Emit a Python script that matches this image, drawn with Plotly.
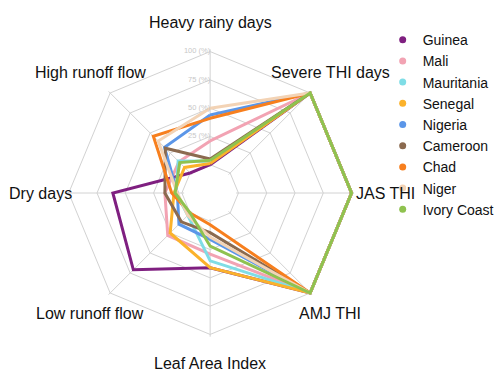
import math
import plotly.graph_objects as go

W, H = 499, 371

categories = ["Heavy rainy days", "Severe THI days", "JAS THI", "AMJ THI",
              "Leaf Area Index", "Low runoff flow", "Dry days", "High runoff flow"]

countries = ["Guinea", "Mali", "Mauritania", "Senegal", "Nigeria",
             "Cameroon", "Chad", "Niger", "Ivory Coast"]

guinea      = [0, 100, 100, 100, 41, 71, 61, 0]
mali        = [21, 100, 100, 100, 29, 28, 15, 14]
mauritania  = [3, 100, 100, 100, 35, 3, 5, 15]
senegal     = [1, 100, 100, 100, 41, 25, 7, 7]
nigeria     = [44, 100, 100, 100, 16, 14, 4, 32]
cameroon    = [5, 100, 100, 100, 10, 11, 15, 31]
chad        = [41, 100, 100, 100, 3, 0, 9, 46]
niger       = [50, 100, 100, 100, 14, 3, 4, 40]
ivory_coast = [4, 100, 100, 100, 22, 0, 6, 13]

series = [guinea, mali, mauritania, senegal, nigeria, cameroon, chad, niger, ivory_coast]

colors = ["#7f1f80", "#f2a3b3", "#7fdde6", "#fbb22b", "#5b96e8",
          "#8b6a4f", "#f77f1e", "#f3d3b5", "#8fc24f"]

radial_tickvals = [0, 25, 50, 75, 100]
radial_ticktext = ["0 (%)", "25 (%)", "50 (%)", "75 (%)", "100 (%)"]

FONT = "Liberation Sans, Arial, Helvetica, sans-serif"

fig = go.Figure()

for name, vals, col in zip(countries, series, colors):
    fig.add_trace(go.Scatterpolar(
        r=vals + vals[:1], theta=categories + categories[:1],
        mode="lines", line=dict(color=col, width=3),
        name=name, showlegend=False, hoverinfo="skip", cliponaxis=False))

# legend dots
for name, col in zip(countries, colors):
    fig.add_trace(go.Scatterpolar(
        r=[None], theta=[categories[0]], mode="markers",
        marker=dict(color=col, size=7), name=name, showlegend=True))

# radial tick labels along first spoke
fig.add_trace(go.Scatterpolar(
    r=radial_tickvals, theta=[categories[0]] * len(radial_tickvals),
    mode="text", text=radial_ticktext, textposition="middle left",
    textfont=dict(size=7.5, color="#c8c8c8", family=FONT),
    showlegend=False, hoverinfo="skip", cliponaxis=False))

# geometry (pixels): centre, radius of the 100 ring, radius of the 0 ring
cx, cy, R, R0 = 211, 193, 142, 28.4
RMIN, RMAX = -2, 102  # small headroom so the 0 and 100 rings are drawn and lines not clipped
k = (R - R0) / 100
Rout = R0 + k * RMAX
Rin = R0 + k * RMIN
xdom = [(cx - Rout) / W, (cx + Rout) / W]
ydom = [1 - (cy + Rout) / H, 1 - (cy - Rout) / H]

annotations = []
n = len(categories)
for i, cat in enumerate(categories):
    a = math.radians(90 - i * 360 / n)
    ca, sa = math.cos(a), math.sin(a)
    if ca > 0.99:
        ax, xa = cx + R + 2, "left"
    else:
        ax, xa = cx + 1.2 * R * ca, "center"
    ay = cy - 1.2 * R * sa
    annotations.append(dict(x=ax / W, y=1 - ay / H, xref="paper", yref="paper",
                            text=cat, showarrow=False, xanchor=xa, yanchor="middle",
                            font=dict(size=16, color="#111111", family=FONT)))

fig.update_layout(
    width=W, height=H,
    margin=dict(l=0, r=0, t=0, b=0),
    paper_bgcolor="white", plot_bgcolor="white",
    font=dict(family=FONT, color="#111111"),
    polar=dict(
        domain=dict(x=xdom, y=ydom),
        bgcolor="white",
        hole=Rin / Rout,
        gridshape="linear",
        radialaxis=dict(range=[RMIN, RMAX], tickvals=radial_tickvals, showticklabels=False,
                        ticks="", showline=False, gridcolor="#d2d2d2", gridwidth=1,
                        layer="below traces"),
        angularaxis=dict(rotation=90, direction="clockwise", showticklabels=False,
                         ticks="", gridcolor="#d2d2d2", gridwidth=1,
                         showline=False, layer="below traces"),
    ),
    legend=dict(x=0.77, y=0.935, xanchor="left", yanchor="top",
                font=dict(size=14, color="#111111", family=FONT),
                tracegroupgap=0, bgcolor="rgba(0,0,0,0)"),
    annotations=annotations,
    showlegend=True,
)

fig.write_html("out.html")
